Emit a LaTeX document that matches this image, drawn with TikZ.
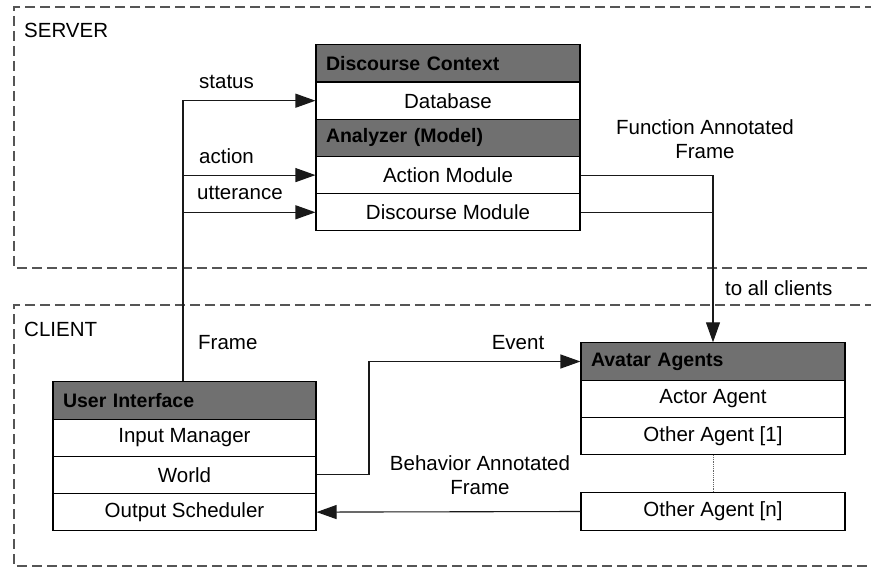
\documentclass[tikz,border=0pt]{standalone}
\usepackage{fontspec}
\setmainfont{Liberation Sans}
\usetikzlibrary{arrows.meta,calc}
\definecolor{hdr}{HTML}{707070}
\definecolor{dashc}{HTML}{555555}
\tikzset{
  x=1pt,y=-1pt,
  row/.style={draw=black,line width=1.1pt,fill=white,minimum width=264pt,minimum height=37.3pt,inner sep=0pt,font=\fontsize{20.5}{24}\selectfont},
  hdrrow/.style={row,fill=hdr,text width=244pt,align=left,font=\fontsize{19.5}{24}\selectfont\bfseries},
  grp/.style={draw=dashc,line width=1.1pt,dash pattern=on 10pt off 5pt},
  conn/.style={draw=black!90,line width=1.1pt},
  arr/.style={conn,-{Triangle[length=20pt,width=14pt]}},
  lbl/.style={inner sep=0pt,font=\fontsize{20.5}{24}\selectfont},
}
\begin{document}
\begin{tikzpicture}
\clip (0,0) rectangle (871,567);
\fill[white] (0,0) rectangle (871,567);
% groups
\draw[grp] (890,7) -- (14,7) -- (14,268) -- (890,268);
\draw[grp] (890,305) -- (14,305) -- (14,566) -- (890,566);
\node[lbl,anchor=west] (srv) at (24,30) {SERVER};
\node[lbl,anchor=west] (cli) at (24,329) {CLIENT};
% server stack
\node[hdrrow] (dc) at (448,63.5) {Discourse Context};
\node[row] (db) at (448,100.7) {Database};
\node[hdrrow] (an) at (448,137.9) {Analyzer (Model)};
\node[row] (am) at (448,175.1) {Action Module};
\node[row] (dm) at (448,212.3) {Discourse Module};
% UI stack
\node[hdrrow,minimum width=263pt,text width=243pt] (ui) at (184.5,400.5) {User Interface};
\node[row,minimum width=263pt] (im) at (184.5,437.7) {Input Manager};
\node[row,minimum width=263pt] (wo) at (184.5,474.9) {World};
\node[row,minimum width=263pt] (os) at (184.5,512.1) {Output Scheduler};
% avatar stack
\node[hdrrow] (av) at (713,361.5) {Avatar Agents};
\node[row] (aa) at (713,398.7) {Actor Agent};
\node[row] (oa1) at (713,435.9) {Other Agent [1]};
\node[row] (oan) at (713,511.5) {Other Agent [n]};
\draw[black!60,line width=0.8pt,densely dotted] (oa1.south) -- (oan.north);
% client -> server
\coordinate (bus) at (183,0);
\draw[arr] (bus |- ui.north) |- (db.west);
\draw[arr] (bus |- am.west) -- (am.west);
\draw[arr] (bus |- dm.west) -- (dm.west);
\node[lbl,anchor=west] (lstatus) at (199,82) {status};
\node[lbl,anchor=west] (laction) at (199,156) {action};
\node[lbl,anchor=west] (lutt) at (197,193) {utterance};
\node[lbl,anchor=west] (lframe) at (198,343) {Frame};
% server -> clients
\draw[arr] (am.east) -| (av.north);
\draw[conn] (dm.east) -- (dm.east -| av.north);
\node[lbl,align=center] (lfaf) at (705,139) {Function Annotated\\Frame};
\node[lbl,anchor=west] (ltac) at (725,288) {to all clients};
% event
\coordinate (evk) at (369,0);
\draw[arr] (wo.east) -- (wo.east -| evk) |- (av.west);
\node[lbl] (levent) at (518,343) {Event};
% behavior
\draw[arr] (oan.west) -- (os.east);
\node[lbl,align=center] (lbaf) at (480,475.5) {Behavior Annotated\\Frame};
\end{tikzpicture}
\end{document}
